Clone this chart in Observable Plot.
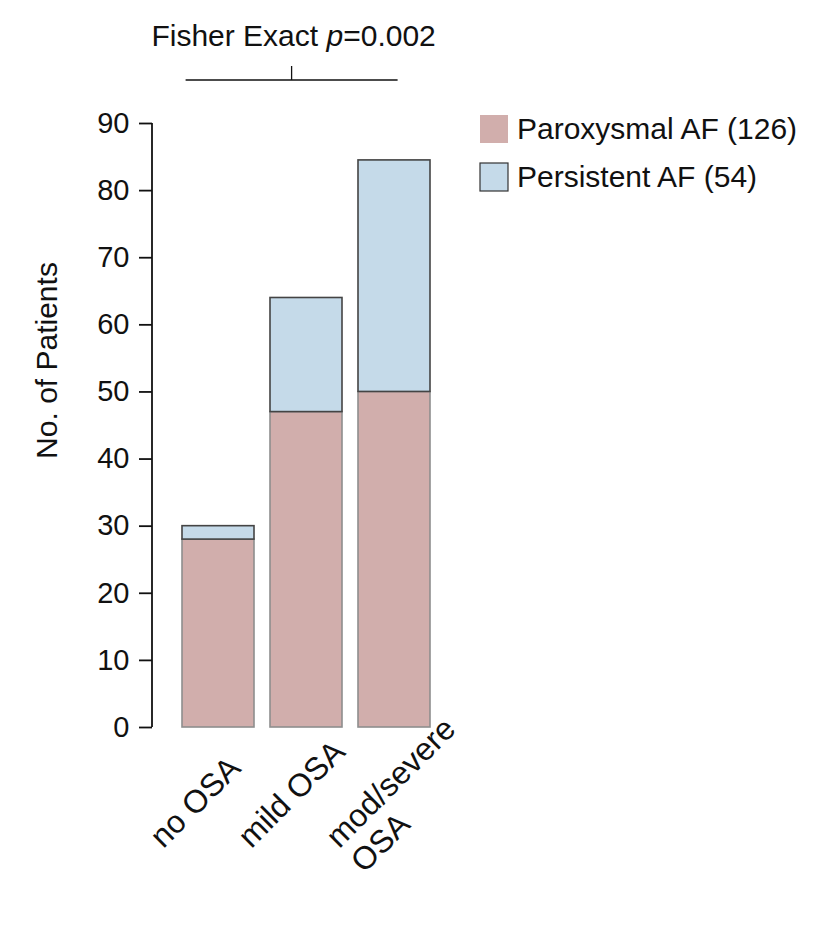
<!DOCTYPE html>
<html>
<head>
<meta charset="utf-8">
<script src="https://cdn.jsdelivr.net/npm/d3@7"></script>
<script src="https://cdn.jsdelivr.net/npm/@observablehq/plot@0.6"></script>
<style>
  html, body { margin: 0; padding: 0; background: #fff; }
  #chart svg { display: block; }
</style>
</head>
<body>
<div id="chart"></div>
<script>
// ---- data ----
const groups = ["no OSA", "mild OSA", "mod/severe OSA"];
const groupLabels = ["no OSA", "mild OSA", "mod/severe\nOSA"];
const types = ["Paroxysmal AF", "Persistent AF"];
const typeLabels = ["Paroxysmal AF (126)", "Persistent AF (54)"];
const paroxysmal = [28, 47, 50];
const persistent = [2, 17, 34.5];
const yTicks = [0, 10, 20, 30, 40, 50, 60, 70, 80, 90];
const titleMain = "Fisher Exact ";
const titleP = "p";
const titleValue = "=0.002";
const yLabel = "No. of Patients";

// ---- styles ----
const FONT = "'Liberation Sans', Arial, Helvetica, sans-serif";
const fills = ["#d1aeac", "#c5dae9"];
const strokes = ["#8e8e8e", "#444444"];

const data = groups.flatMap((g, i) => [
  {group: g, type: types[0], count: paroxysmal[i]},
  {group: g, type: types[1], count: persistent[i]}
]);
const labelRows = groups.map((g, i) => ({group: g, label: groupLabels[i]}));

function annotations(index, scales, values, dims) {
  const x = scales.x, y = scales.y;
  const bw = x.bandwidth ? x.bandwidth() : 0;
  const g = d3.create("svg:g").attr("font-family", FONT).attr("fill", "#111");
  // y axis line
  g.append("line")
    .attr("x1", dims.marginLeft).attr("x2", dims.marginLeft)
    .attr("y1", y(0)).attr("y2", y(90))
    .attr("stroke", "#111").attr("stroke-width", 1.8);
  // significance bracket
  const bx1 = x(groups[0]) + bw * 0.05;
  const bx2 = x(groups[2]) + bw * 0.55;
  const by = dims.marginTop - 43;
  const mid = (bx1 + bx2) / 2;
  g.append("line").attr("x1", bx1).attr("x2", bx2).attr("y1", by).attr("y2", by)
    .attr("stroke", "#111").attr("stroke-width", 1.3);
  g.append("line").attr("x1", mid).attr("x2", mid).attr("y1", by - 14).attr("y2", by)
    .attr("stroke", "#111").attr("stroke-width", 1.3);
  const t = g.append("text").attr("x", mid + 2).attr("y", 46)
    .attr("text-anchor", "middle").attr("font-size", 30);
  t.append("tspan").text(titleMain);
  t.append("tspan").attr("font-style", "italic").text(titleP);
  t.append("tspan").text(titleValue);
  // legend
  const lx = dims.width - dims.marginRight + 20;
  const ly = dims.marginTop - 8;
  types.forEach((tp, i) => {
    g.append("rect").attr("x", lx).attr("y", ly + i * 48).attr("width", 28).attr("height", 28)
      .attr("fill", scales.color(tp))
      .attr("stroke", i === 1 ? "#333" : "none").attr("stroke-width", 1.2);
    g.append("text").attr("x", lx + 37).attr("y", ly + i * 48 + 24)
      .attr("text-anchor", "start")
      .attr("font-size", 30).text(typeLabels[i]);
  });
  return g.node();
}

const chart = Plot.plot({
  width: 830,
  height: 938,
  marginTop: 123,
  marginBottom: 211,
  marginLeft: 152,
  marginRight: 370,
  style: {fontFamily: FONT, background: "#fff", color: "#111", overflow: "visible"},
  x: {domain: groups, paddingInner: 0.184, paddingOuter: 0.334, axis: null},
  y: {domain: [0, 90], axis: null},
  color: {domain: types, range: fills},
  marks: [
    Plot.barY(data, Plot.stackY({
      x: "group", y: "count", fill: "type",
      stroke: {value: d => strokes[types.indexOf(d.type)], scale: null},
      strokeWidth: 1.6
    })),
    Plot.axisY({ticks: yTicks, tickSize: 13, tickPadding: 10, fontSize: 29, strokeWidth: 1.8, label: null, tickFormat: d => String(d)}),
    Plot.text(labelRows, {
      x: "group", frameAnchor: "bottom", text: "label",
      textAnchor: "start", lineAnchor: "top", rotate: -45,
      fontSize: 32, lineHeight: 1.1, dx: -73, dy: 104, fill: "#111"
    }),
    Plot.text([yLabel], {
      frameAnchor: "left", text: d => d, rotate: -90, fontSize: 30,
      lineAnchor: "middle", textAnchor: "middle", dx: -105, dy: -65, fill: "#111"
    }),
    annotations
  ]
});
document.getElementById("chart").appendChild(chart);
</script>
</body>
</html>
